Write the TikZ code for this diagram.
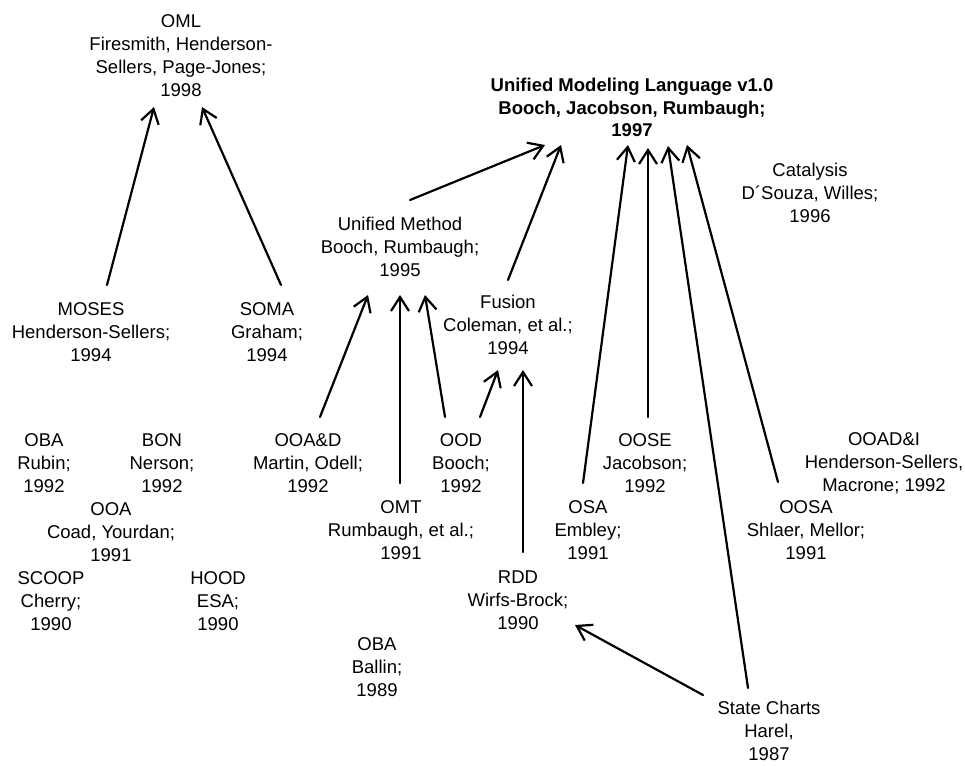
\documentclass[tikz,border=0pt]{standalone}
\usepackage{fontspec}
\setmainfont{Liberation Sans}
\usetikzlibrary{arrows.meta}
\begin{document}
\begin{tikzpicture}[x=1pt,y=-1pt,
  method/.style={align=center,inner sep=0pt,font=\fontsize{18.5}{23}\selectfont},
  headline/.style={method,font=\fontsize{18.5}{22.5}\selectfont\bfseries},
  link/.style={line width=2.2pt,line cap=round,
    -{Straight Barb[length=14pt,width=18pt,line width=2.2pt]}}]
\useasboundingbox (0,0) rectangle (965,765);

% methods and their authors
\node[method]   (oml)    at (181,55.5)  {OML\\Firesmith, Henderson-\\Sellers, Page-Jones;\\1998};
\node[headline] (uml)    at (632,107.5) {Unified Modeling Language v1.0\\Booch, Jacobson, Rumbaugh;\\1997};
\node[method]   (cat)    at (810,192.5) {Catalysis\\D´Souza, Willes;\\1996};
\node[method]   (um)     at (400,247)   {Unified Method\\Booch, Rumbaugh;\\1995};
\node[method]   (moses)  at (91,332.5)  {MOSES\\Henderson-Sellers;\\1994};
\node[method]   (soma)   at (267,332.5) {SOMA\\Graham;\\1994};
\node[method]   (fusion) at (508,325)   {Fusion\\Coleman, et al.;\\1994};
\node[method]   (obar)   at (44,463.5)  {OBA\\Rubin;\\1992};
\node[method]   (bon)    at (162,463.5) {BON\\Nerson;\\1992};
\node[method]   (ooad)   at (308,463.5) {OOA\&D\\Martin, Odell;\\1992};
\node[method]   (ood)    at (461,463.5) {OOD\\Booch;\\1992};
\node[method]   (oose)   at (645,463.5) {OOSE\\Jacobson;\\1992};
\node[method]   (ooadi)  at (884,463)   {OOAD\&I\\Henderson-Sellers,\\Macrone; 1992};
\node[method]   (ooa)    at (111,532.5) {OOA\\Coad, Yourdan;\\1991};
\node[method]   (omt)    at (401,530.5) {OMT\\Rumbaugh, et al.;\\1991};
\node[method]   (osa)    at (588,530.5) {OSA\\Embley;\\1991};
\node[method]   (oosa)   at (806,530.5) {OOSA\\Shlaer, Mellor;\\1991};
\node[method]   (scoop)  at (51,601.5)  {SCOOP\\Cherry;\\1990};
\node[method]   (hood)   at (218,601.5) {HOOD\\ESA;\\1990};
\node[method]   (rdd)    at (518,600.5) {RDD\\Wirfs-Brock;\\1990};
\node[method]   (obab)   at (377,667.5) {OBA\\Ballin;\\1989};
\node[method]   (sc)     at (769,731)   {State Charts\\Harel,\\1987};

% influences, pointing from the older method to the newer one
\draw[link] ([shift={(16,-47.5)}]moses.center)  -- ([shift={(-27,51.5)}]oml.center);
\draw[link] ([shift={(14,-47.5)}]soma.center)   -- ([shift={(21,51.5)}]oml.center);
\draw[link] ([shift={(10,-47)}]um.center)       -- ([shift={(-87,37.5)}]uml.center);
\draw[link] ([shift={(0,-45)}]fusion.center)    -- ([shift={(-71,37.5)}]uml.center);
\draw[link] ([shift={(12,-46.5)}]ooad.center)   -- ([shift={(-32,48)}]um.center);
\draw[link] ([shift={(-1,-47.5)}]omt.center)    -- ([shift={(0,48)}]um.center);
\draw[link] ([shift={(-16,-46.5)}]ood.center)   -- ([shift={(25,48)}]um.center);
\draw[link] ([shift={(19,-46.5)}]ood.center)    -- ([shift={(-10,45)}]fusion.center);
\draw[link] ([shift={(5,-48.5)}]rdd.center)     -- ([shift={(15,45)}]fusion.center);
\draw[link] ([shift={(-5,-47.5)}]osa.center)    -- ([shift={(-4,37.5)}]uml.center);
\draw[link] ([shift={(3,-46.5)}]oose.center)    -- ([shift={(16,40.5)}]uml.center);
\draw[link] ([shift={(-21,-43)}]sc.center)      -- ([shift={(36,38.5)}]uml.center);
\draw[link] ([shift={(-28,-48.5)}]oosa.center)  -- ([shift={(55,37.5)}]uml.center);
\draw[link] ([shift={(-66,-36)}]sc.center)      -- ([shift={(57,24.5)}]rdd.center);
\end{tikzpicture}
\end{document}
